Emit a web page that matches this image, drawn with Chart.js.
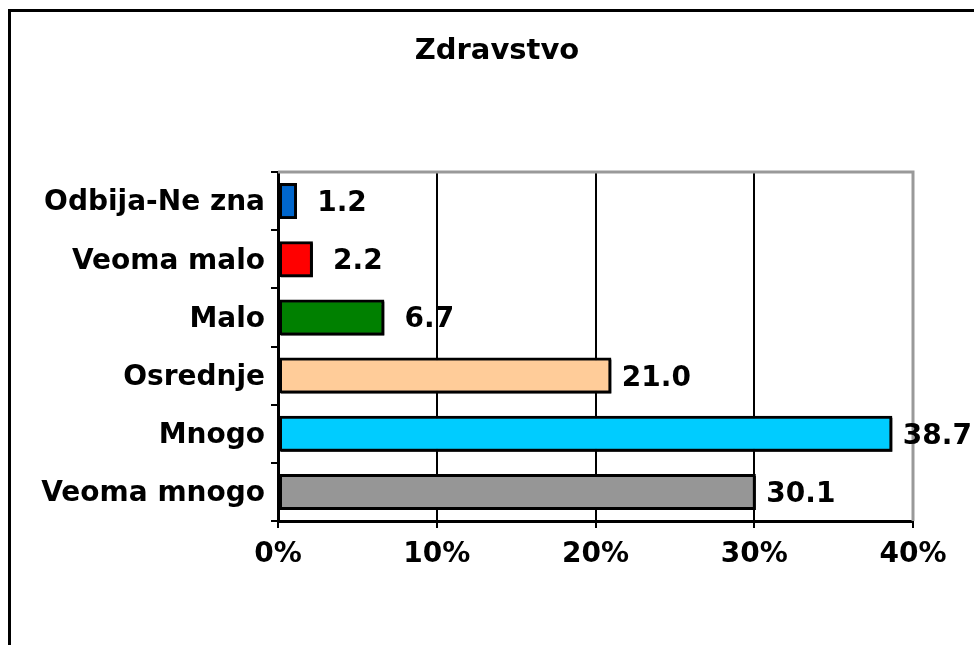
<!DOCTYPE html>
<html>
<head>
<meta charset="utf-8">
<script src="https://cdn.jsdelivr.net/npm/chart.js@4/dist/chart.umd.min.js"></script>
<style>
  html, body { margin: 0; padding: 0; background: #fff; }
  #wrap { width: 974px; height: 645px; }
</style>
</head>
<body>
<div id="wrap"><canvas id="chart"></canvas></div>
<script>
const FONT = "'DejaVu Sans', Verdana, sans-serif";
const TITLE = "Zdravstvo";
const CATEGORIES = ["Odbija-Ne zna", "Veoma malo", "Malo", "Osrednje", "Mnogo", "Veoma mnogo"];
const VALUES = [1.2, 2.2, 6.7, 21.0, 38.7, 30.1];
const COLORS = ["#0066CC", "#FF0000", "#008000", "#FFCC99", "#00CCFF", "#969696"];
const X_TICKS = [0, 10, 20, 30, 40];

/* ---------- frame, title, plot border, value labels ---------- */
const framePlugin = {
  id: "frame",
  beforeDraw(chart) {
    const ctx = chart.ctx;
    ctx.save();
    ctx.strokeStyle = "#000";
    ctx.lineWidth = 3;
    ctx.strokeRect(9.5, 10.5, 2000, 2000);
    ctx.font = "bold 29px " + FONT;
    ctx.fillStyle = "#000";
    ctx.textAlign = "center";
    ctx.textBaseline = "alphabetic";
    ctx.fillText(TITLE, 497, 59);
    ctx.restore();
  },
  beforeDatasetsDraw(chart) {
    const { ctx, chartArea: a } = chart;
    ctx.save();
    ctx.strokeStyle = "#999";
    ctx.lineWidth = 3;
    ctx.beginPath();
    ctx.moveTo(a.left, a.top);
    ctx.lineTo(a.right, a.top);
    ctx.lineTo(a.right, a.bottom);
    ctx.stroke();
    ctx.restore();
    // small shadow under bars
    ctx.save();
    ctx.shadowColor = "rgba(0,0,0,0.9)";
    ctx.shadowOffsetX = 2;
    ctx.shadowOffsetY = 2;
    ctx.shadowBlur = 0;
  },
  afterDatasetsDraw(chart) {
    chart.ctx.restore();
    const ctx = chart.ctx;
    const meta = chart.getDatasetMeta(0);
    ctx.save();
    ctx.font = "bold 28px " + FONT;
    ctx.fillStyle = "#000";
    ctx.textAlign = "center";
    ctx.textBaseline = "alphabetic";
    meta.data.forEach((bar, i) => {
      ctx.fillText(VALUES[i].toFixed(1), bar.x + 45, bar.y + 10);
    });
    ctx.restore();
  },
};

new Chart(document.getElementById("chart"), {
  type: "bar",
  data: {
    labels: CATEGORIES,
    datasets: [{
      data: VALUES,
      backgroundColor: COLORS,
      borderColor: "#000",
      borderWidth: 3,
      borderSkipped: false,
      categoryPercentage: 1,
      barPercentage: 0.62,
    }],
  },
  options: {
    indexAxis: "y",
    responsive: true,
    maintainAspectRatio: false,
    animation: false,
    layout: { padding: { left: 0, right: 61, top: 172, bottom: 0 } },
    plugins: {
      legend: { display: false },
      tooltip: { enabled: false },
      title: { display: false },
    },
    scales: {
      x: {
        min: 0, max: 40,
        afterBuildTicks: (s) => { s.ticks = X_TICKS.map((v) => ({ value: v })); },
        afterFit: (s) => { s.height = 124; },
        grid: {
          color: (c) => (c.tick && (c.tick.value === 0 || c.tick.value === 40)) ? "rgba(0,0,0,0)" : "#000",
          tickColor: "#000",
          lineWidth: 2,
          tickLength: 7,
        },
        border: { display: true, color: "#000", width: 3 },
        ticks: {
          color: "#000", padding: 10,
          font: { family: FONT, size: 28, weight: "bold" },
          callback: (v) => v + "%",
        },
      },
      y: {
        afterFit: (s) => { s.width = 278; },
        grid: {
          offset: true,
          color: "rgba(0,0,0,0)",
          tickColor: "#000",
          lineWidth: 2,
          tickLength: 7,
        },
        border: { display: true, color: "#000", width: 3 },
        ticks: {
          color: "#000", padding: 6, labelOffset: 2,
          font: { family: FONT, size: 28, weight: "bold" },
        },
      },
    },
  },
  plugins: [framePlugin],
});
</script>
</body>
</html>
